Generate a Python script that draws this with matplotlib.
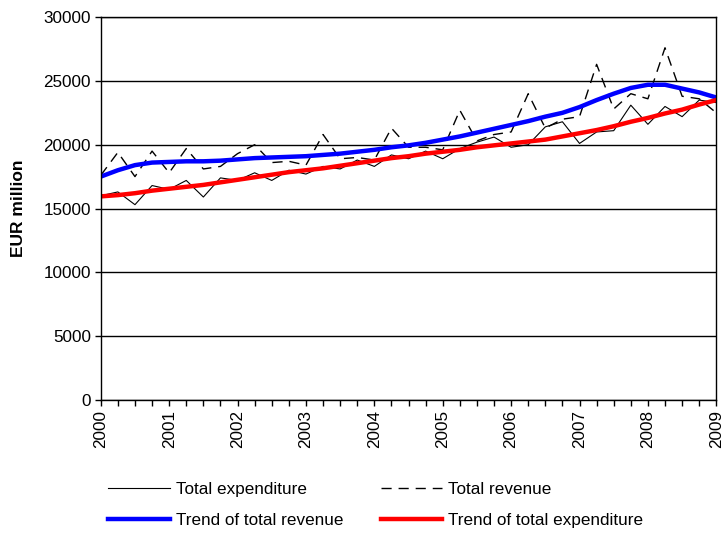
import numpy as np
import matplotlib
matplotlib.use("Agg")
import matplotlib.pyplot as plt
from matplotlib.ticker import MultipleLocator

plt.rcParams['font.family'] = ['Liberation Sans', 'DejaVu Sans']

# quarterly observations, 2000Q1 .. 2009Q1
quarters = 2000 + np.arange(37) * 0.25

expenditure = [16000, 16300, 15300, 16800,
               16500, 17200, 15900, 17400,
               17200, 17800, 17200, 18000,
               17700, 18300, 18100, 18800,
               18300, 19200, 18900, 19500,
               18900, 19700, 20200, 20600,
               19800, 20000, 21400, 21800,
               20100, 21000, 21100, 23100,
               21600, 23000, 22200, 23500,
               23300]

revenue = [17600, 19400, 17500, 19500,
           17800, 19700, 18100, 18300,
           19300, 20000, 18600, 18700,
           18400, 20800, 18900, 19000,
           18800, 21300, 19800, 19800,
           19600, 22700, 20300, 20800,
           21000, 24000, 21300, 22000,
           22200, 26300, 22800, 24000,
           23600, 27600, 23800, 23600,
           22500]

trend_revenue = [17500, 18000, 18400, 18600,
                 18650, 18700, 18700, 18750,
                 18850, 18950, 19000, 19050,
                 19100, 19200, 19300, 19450,
                 19600, 19800, 19950, 20150,
                 20400, 20650, 20950, 21250,
                 21550, 21850, 22200, 22500,
                 22950, 23500, 24000, 24450,
                 24700, 24700, 24400, 24100,
                 23700]

trend_expenditure = [15950, 16050, 16200, 16400,
                     16550, 16700, 16850, 17050,
                     17250, 17450, 17650, 17850,
                     18000, 18150, 18350, 18550,
                     18750, 18950, 19100, 19300,
                     19450, 19600, 19800, 19950,
                     20100, 20250, 20400, 20650,
                     20900, 21150, 21450, 21800,
                     22100, 22450, 22750, 23150,
                     23500]

years = list(range(2000, 2010))

fig = plt.figure(figsize=(7.25, 5.36), dpi=100)
ax = fig.add_axes([0.139, 0.254, 0.849, 0.714])

l_exp, = ax.plot(quarters, expenditure, color='black', lw=0.8, label='Total expenditure')
l_rev, = ax.plot(quarters, revenue, color='black', lw=1.0, dashes=(7.3, 5.0), label='Total revenue')
l_trev, = ax.plot(quarters, trend_revenue, color='#0000ff', lw=3.2, label='Trend of total revenue')
l_texp, = ax.plot(quarters, trend_expenditure, color='#ff0000', lw=3.2, label='Trend of total expenditure')

ax.set_xlim(2000, 2009)
ax.set_ylim(0, 30000)
ax.xaxis.set_minor_locator(MultipleLocator(0.25))
ax.yaxis.set_major_locator(MultipleLocator(5000))
ax.set_xticks(years)
ax.set_xticklabels([str(y) for y in years], rotation=90)
ax.tick_params(axis='both', which='both', direction='out', length=4, width=1,
               labelsize=12.3, pad=3)
ax.grid(axis='y', color='black', lw=1)
ax.set_axisbelow(True)
for s in ax.spines.values():
    s.set_color('black')
    s.set_linewidth(1)
ax.set_ylabel('EUR million', fontweight='bold', fontsize=12.5)
ax.yaxis.set_label_coords(-0.122, 0.5)

fig.legend(handles=[l_exp, l_trev, l_rev, l_texp], ncol=2, frameon=False,
           loc='upper left', bbox_to_anchor=(0.128, 0.129), fontsize=12.3,
           handlelength=3.6, handletextpad=0.35, columnspacing=2.2, labelspacing=0.9)

fig.savefig('out.png', dpi=100)
